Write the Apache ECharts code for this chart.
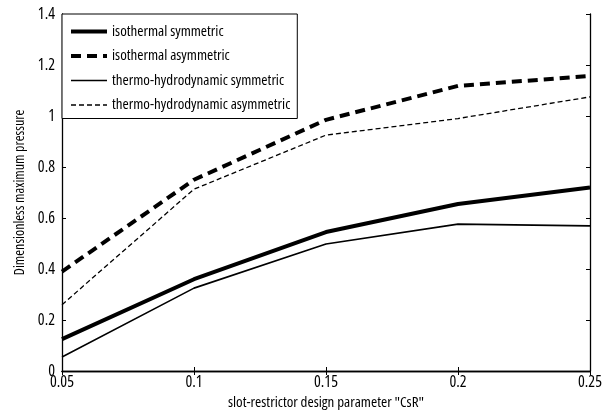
<!DOCTYPE html>
<html>
<head>
<meta charset="utf-8">
<script src="https://cdn.jsdelivr.net/npm/echarts@6/dist/echarts.min.js"></script>
<style>
html,body{margin:0;padding:0;background:#fff;}
#chart{width:616px;height:417px;}
</style>
</head>
<body>
<div id="chart"></div>
<script>
var xValues = [0.05, 0.10, 0.15, 0.20, 0.25];
var isoSym = [0.125, 0.36, 0.545, 0.655, 0.72];
var isoAsym = [0.39, 0.75, 0.985, 1.118, 1.157];
var thermoSym = [0.055, 0.325, 0.498, 0.576, 0.569];
var thermoAsym = [0.26, 0.713, 0.925, 0.99, 1.075];
var seriesNames = ['isothermal symmetric', 'isothermal asymmetric', 'thermo-hydrodynamic symmetric', 'thermo-hydrodynamic asymmetric'];
var xTitle = 'slot-restrictor design parameter "CsR"';
var yTitle = 'Dimensionless maximum pressure';

// narrow (condensed) text rendering on canvas
(function(){
  var P = CanvasRenderingContext2D.prototype;
  var d = Object.getOwnPropertyDescriptor(P, 'font');
  Object.defineProperty(P, 'font', {
    configurable: true, enumerable: d.enumerable,
    get: function(){ return d.get.call(this); },
    set: function(v){ d.set.call(this, /condensed/.test(v) ? v : 'condensed ' + v); }
  });
})();

var FONT = '"Open Sans", sans-serif';
var widths = [4, 4, 1.6, 1.3];
var dashes = ['solid', [10,6], 'solid', [5,3]];

function pairs(ys){ return xValues.map(function(x,i){ return [x, ys[i]]; }); }
function fmt(v){ return String(parseFloat(v.toFixed(4))); }

var chart = echarts.init(document.getElementById('chart'), null, {renderer:'canvas'});
var axisLine = {show:true, lineStyle:{color:'#000', width:1.3}};
var tick = {show:true, inside:true, length:4, lineStyle:{color:'#000'}};
var dataList = [isoSym, isoAsym, thermoSym, thermoAsym];
chart.setOption({
  animation:false,
  backgroundColor:'#fff',
  grid:{left:62, right:26, top:14, bottom:46, containLabel:false},
  legend:{
    orient:'vertical', left:62, top:14, itemWidth:36, itemHeight:10, itemGap:9.5,
    padding:[10,7,6,7],
    backgroundColor:'#fff', borderColor:'#000', borderWidth:1, borderRadius:0,
    textStyle:{fontFamily:FONT, fontSize:15, color:'#000'},
    data:seriesNames.map(function(n,i){
      return {name:n, icon:'line', itemStyle:{color:'#000', borderColor:'#000', borderWidth:widths[i], borderType:dashes[i]}};
    })
  },
  xAxis:[{
    type:'value', min:0.05, max:0.25, interval:0.05,
    name:xTitle, nameLocation:'middle', nameGap:21,
    nameTextStyle:{fontFamily:FONT, fontSize:15, color:'#000'},
    axisLine:axisLine, axisTick:tick,
    axisLabel:{fontFamily:FONT, fontSize:16, color:'#000', margin:3, formatter:fmt},
    splitLine:{show:false}
  },{
    type:'value', min:0.05, max:0.25, interval:0.05, position:'top',
    axisLine:axisLine, axisTick:tick,
    axisLabel:{show:false}, splitLine:{show:false}
  }],
  yAxis:[{
    type:'value', min:0, max:1.4, interval:0.2,
    name:yTitle, nameLocation:'middle', nameGap:34,
    nameTextStyle:{fontFamily:FONT, fontSize:14, color:'#000'},
    axisLine:axisLine, axisTick:tick,
    axisLabel:{fontFamily:FONT, fontSize:16, color:'#000', margin:7, formatter:fmt},
    splitLine:{show:false}
  },{
    type:'value', min:0, max:1.4, interval:0.2, position:'right',
    axisLine:axisLine, axisTick:tick,
    axisLabel:{show:false}, splitLine:{show:false}
  }],
  series:seriesNames.map(function(n,i){
    return {name:n, type:'line', data:pairs(dataList[i]), symbol:'none',
      lineStyle:{color:'#000', width:widths[i], type:dashes[i]}, itemStyle:{color:'#000'}};
  })
});
</script>
</body>
</html>
